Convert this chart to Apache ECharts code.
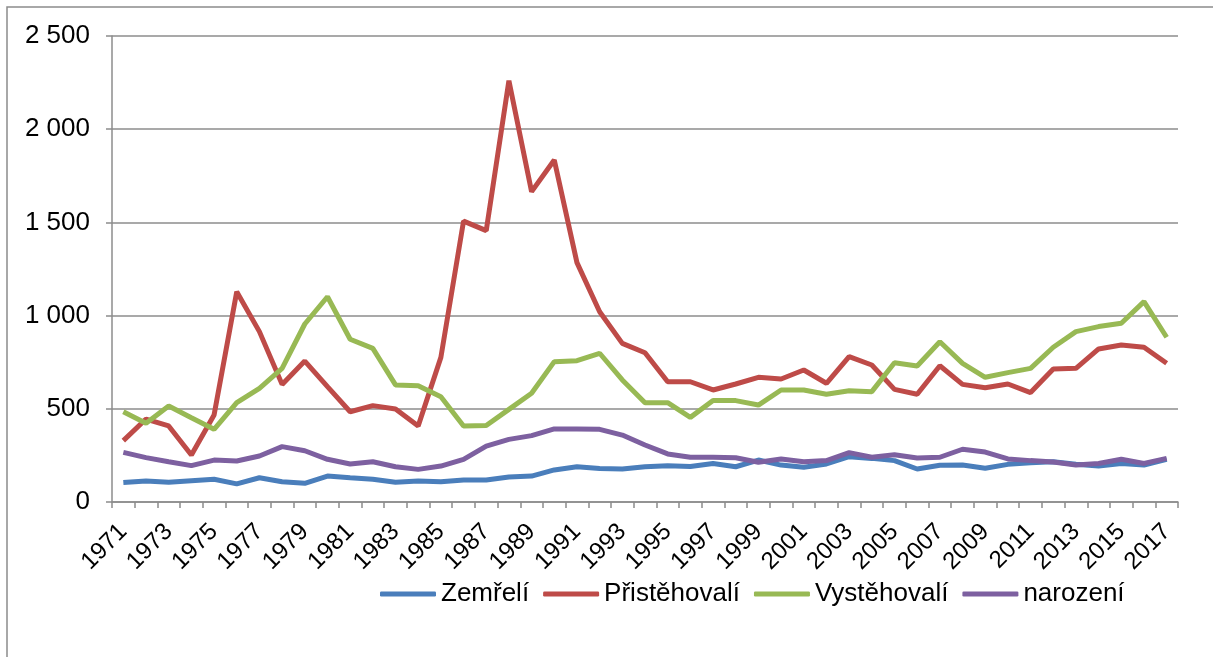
<!DOCTYPE html>
<html lang="cs">
<head>
  <meta charset="UTF-8">
  <title>Pohyb obyvatel</title>
  <style>
    html, body { margin: 0; padding: 0; background: #fff; }
  </style>
</head>
<body>
  <div id="main" style="width: 1213px; height: 657px;"></div>
  <script src="https://cdn.jsdelivr.net/npm/echarts@6/dist/echarts.min.js"></script>
  <script type="text/javascript">
    // roky 1971 - 2017
    var years = [];
    for (var y = 1971; y <= 2017; y++) years.push(String(y));

    var zemreli = [104, 113, 106, 114, 122, 97, 130, 109, 100, 139, 130, 122, 106, 113, 109, 118,
      118, 134, 139, 172, 189, 180, 177, 189, 195, 191, 207, 189, 225, 198, 186, 204,
      243, 234, 222, 177, 197, 198, 181, 202, 211, 216, 202, 193, 207, 198, 229];
    var pristehovali = [329, 445, 408, 252, 467, 1128, 914, 631, 756, 619, 484, 517, 499, 408, 776, 1507,
      1456, 2260, 1665, 1835, 1284, 1021, 851, 801, 645, 645, 601, 633, 669, 660, 708, 637,
      780, 735, 604, 578, 731, 631, 613, 633, 587, 713, 717, 821, 842, 830, 744];
    var vystehovali = [484, 422, 515, 452, 390, 533, 610, 717, 955, 1101, 873, 824, 628, 624, 565, 408,
      410, 497, 583, 753, 758, 798, 655, 533, 533, 454, 544, 544, 520, 601, 601, 578,
      597, 592, 747, 730, 860, 744, 669, 694, 717, 830, 914, 941, 959, 1075, 884];
    var narozeni = [266, 238, 216, 195, 225, 220, 247, 297, 275, 229, 204, 216, 189, 175, 193, 229,
      300, 336, 356, 392, 392, 390, 359, 306, 258, 240, 240, 237, 213, 231, 216, 222,
      265, 240, 254, 236, 240, 283, 268, 231, 222, 215, 198, 207, 229, 207, 234];

    var font = '"Liberation Sans", Arial, sans-serif';
    var gridColor = '#8c8c8c';

    var myChart = echarts.init(document.getElementById('main'));

    function serie(name, data, color) {
      return {
        name: name,
        type: 'line',
        data: data,
        symbol: 'none',
        lineStyle: { color: color, width: 5 },
        itemStyle: { color: color }
      };
    }

    option = {
      animation: false,
      backgroundColor: '#fff',
      graphic: [{
        type: 'rect',
        shape: { x: 7, y: 7, width: 1400, height: 800 },
        style: { fill: 'none', stroke: '#8c8c8c', lineWidth: 1.5 },
        silent: true
      }],
      grid: { left: 112, right: 35, top: 36, bottom: 155 },
      legend: {
        left: 375,
        top: 576,
        icon: 'roundRect',
        itemWidth: 56,
        itemHeight: 5,
        itemGap: 14,
        textStyle: { fontFamily: font, fontSize: 26, color: '#000' },
        data: ['Zemřelí', 'Přistěhovalí', 'Vystěhovalí', 'narození']
      },
      xAxis: {
        type: 'category',
        data: years,
        boundaryGap: true,
        axisLine: { lineStyle: { color: gridColor, width: 1.5 } },
        axisTick: { show: true, length: 6, interval: 0, lineStyle: { color: gridColor, width: 1.5 } },
        axisLabel: {
          interval: 1,
          rotate: 45,
          margin: 26,
          fontFamily: font,
          fontSize: 24,
          color: '#000'
        }
      },
      yAxis: {
        type: 'value',
        min: 0,
        max: 2500,
        interval: 500,
        axisLine: { show: true, lineStyle: { color: gridColor, width: 1.5 } },
        axisTick: { show: true, length: 6, lineStyle: { color: gridColor, width: 1.5 } },
        splitLine: { lineStyle: { color: gridColor, width: 1.5 } },
        axisLabel: {
          margin: 22,
          fontFamily: font,
          fontSize: 26,
          color: '#000',
          formatter: function (v) {
            return String(v).replace(/\B(?=(\d{3})+(?!\d))/g, ' ');
          }
        }
      },
      series: [
        serie('Zemřelí', zemreli, '#4a7ebb'),
        serie('Přistěhovalí', pristehovali, '#be4b48'),
        serie('Vystěhovalí', vystehovali, '#98b954'),
        serie('narození', narozeni, '#7d60a0')
      ]
    };
    myChart.setOption(option);
  </script>
</body>
</html>
